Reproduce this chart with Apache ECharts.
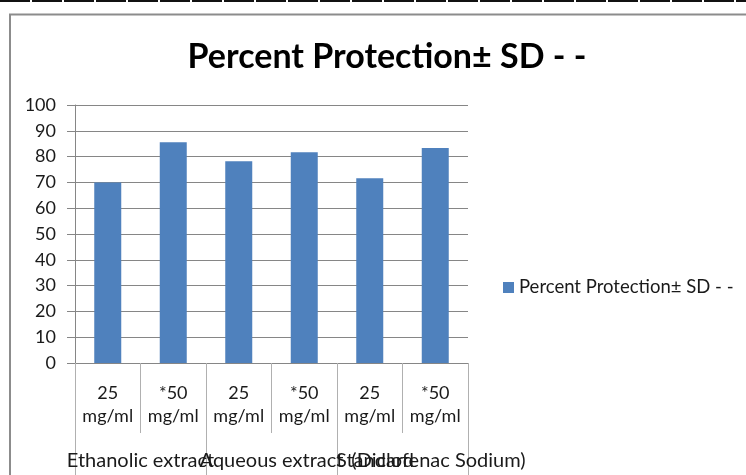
<!DOCTYPE html>
<html>
<head>
<meta charset="utf-8">
<script src="https://cdn.jsdelivr.net/npm/echarts@6/dist/echarts.min.js"></script>
<style>
  html, body { margin: 0; padding: 0; background: #fff; }
  #chart { width: 746px; height: 475px; }
</style>
</head>
<body>
<div id="chart"></div>
<script>
// Dose labels (inner category level) and treatment groups (outer level)
const doseLabels = ['25\nmg/ml', '*50\nmg/ml', '25\nmg/ml', '*50\nmg/ml', '25\nmg/ml', '*50\nmg/ml'];
const groupLabels = ['Ethanolic extract', 'Aqueous extract', 'Standard'];
const groupSubLabels = ['', '', '(Diclofenac Sodium)'];
const seriesName = 'Percent Protection\u00b1 SD - -';
const protection = [70.0, 85.6, 78.2, 81.7, 71.6, 83.3];
const yTicks = { min: 0, max: 100, interval: 10 };

const FONT = 'Lato, "Open Sans", sans-serif';
const GRID_GRAY = '#868686';
const BORDER_GRAY = '#8c8c8c';
const TEXT = '#1a1a1a';

const chart = echarts.init(document.getElementById('chart'), null, { renderer: 'canvas' });

chart.setOption({
  animation: false,
  backgroundColor: '#ffffff',
  title: {
    text: seriesName,
    left: 382,
    textAlign: 'center',
    top: 35,
    textStyle: { fontFamily: FONT, fontSize: 34, fontWeight: 'bold', color: '#000' }
  },
  legend: {
    left: 503,
    top: 278,
    padding: 0,
    itemWidth: 11,
    itemHeight: 11,
    itemGap: 5,
    icon: 'rect',
    textStyle: { fontFamily: FONT, fontSize: 18.5, color: TEXT },
    data: [seriesName]
  },
  grid: { left: 75, right: 278, top: 105, bottom: 112, containLabel: false },
  xAxis: [
    {
      type: 'category',
      data: doseLabels,
      position: 'bottom',
      axisLine: { show: true, lineStyle: { color: GRID_GRAY, width: 1 } },
      axisTick: { show: true, length: 70, alignWithLabel: false, lineStyle: { color: '#b0b0b0' } },
      axisLabel: {
        interval: 0, margin: 19, fontFamily: FONT, fontSize: 18, color: TEXT, lineHeight: 23
      },
      splitLine: { show: false }
    },
    {
      type: 'category',
      data: groupLabels.map((g, i) => i === 2
        ? { value: g, textStyle: { padding: [0, 55, 0, 0] } }
        : g),
      position: 'bottom',
      axisLine: { show: false },
      axisTick: { show: true, length: 112, alignWithLabel: false, lineStyle: { color: '#b0b0b0' } },
      axisLabel: { interval: 0, margin: 88, fontFamily: FONT, fontSize: 20, color: TEXT },
      splitLine: { show: false }
    },
    {
      type: 'category',
      data: groupSubLabels.map((g, i) => i === 2
        ? { value: g, textStyle: { padding: [0, 0, 0, 72] } }
        : g),
      position: 'bottom',
      axisLine: { show: false },
      axisTick: { show: false },
      axisLabel: { interval: 0, margin: 88, fontFamily: FONT, fontSize: 20, color: TEXT },
      splitLine: { show: false }
    }
  ],
  yAxis: {
    type: 'value',
    min: yTicks.min,
    max: yTicks.max,
    interval: yTicks.interval,
    axisLine: { show: true, lineStyle: { color: GRID_GRAY, width: 1 } },
    axisTick: { show: true, length: 8, lineStyle: { color: GRID_GRAY } },
    axisLabel: { margin: 19, fontFamily: FONT, fontSize: 18, color: TEXT },
    splitLine: { show: true, lineStyle: { color: GRID_GRAY, width: 1 } }
  },
  series: [
    {
      name: seriesName,
      type: 'bar',
      xAxisIndex: 0,
      data: protection,
      barWidth: 27,
      itemStyle: { color: '#4f81bd' }
    }
  ],
  graphic: [
    // outer chart frame
    {
      type: 'polyline',
      shape: { points: [[10, 480], [10, 14.5], [750, 14.5]] },
      style: { stroke: BORDER_GRAY, lineWidth: 2, fill: null },
      silent: true
    },
    // page edge line along the top
    {
      type: 'line',
      shape: { x1: 0, y1: 1, x2: 746, y2: 1 },
      style: { stroke: '#111', lineWidth: 2, lineDash: [30, 2] },
      silent: true
    }
  ]
});
</script>
</body>
</html>
